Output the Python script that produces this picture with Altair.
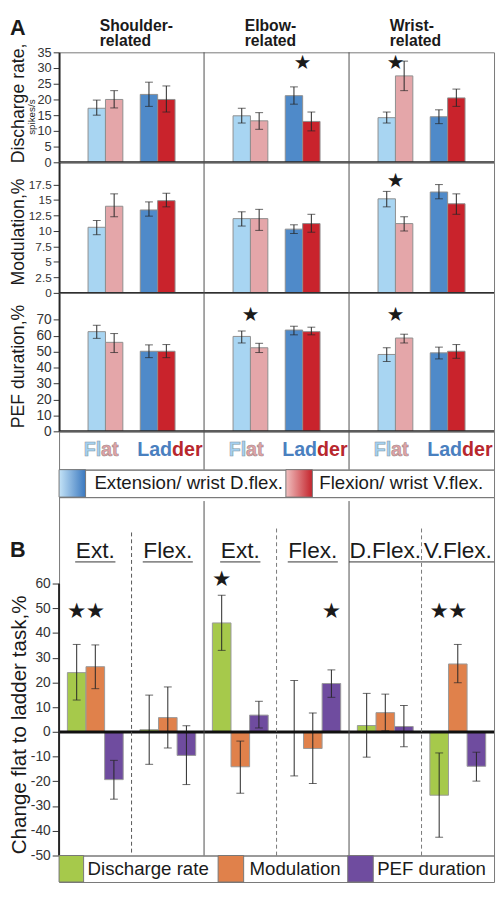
import altair as alt
import pandas as pd

# ---------------- data ----------------
regions = ["Shoulder", "Elbow", "Wrist"]
region_headers = ["Shoulder-\nrelated", "Elbow-\nrelated", "Wrist-\nrelated"]
conditions = ["FE", "FF", "LE", "LF"]  # Flat-Ext, Flat-Flex, Ladder-Ext, Ladder-Flex
slots = ["FE", "FF", "gap", "LE", "LF"]

rate_mean = [17.2, 20.0, 21.6, 20.0, 14.8, 13.2, 21.2, 13.0, 14.2, 27.5, 14.5, 20.5]
rate_lo = [15.0, 17.3, 17.8, 16.0, 12.5, 10.5, 18.5, 10.0, 12.5, 22.8, 12.3, 17.8]
rate_hi = [19.8, 22.8, 25.5, 24.3, 17.2, 15.8, 24.0, 16.0, 16.0, 32.2, 16.7, 23.3]

mod_mean = [10.6, 14.0, 13.4, 14.9, 12.0, 12.0, 10.3, 11.2, 15.2, 11.2, 16.3, 14.4]
mod_lo = [9.4, 12.3, 12.4, 13.9, 10.8, 10.1, 9.6, 9.8, 13.9, 10.0, 15.2, 12.7]
mod_hi = [11.7, 16.0, 14.7, 16.1, 13.1, 13.5, 11.0, 12.7, 16.4, 12.3, 17.5, 16.0]

pef_mean = [62.5, 55.8, 50.2, 50.2, 59.5, 52.4, 63.5, 62.5, 48.2, 58.5, 49.2, 50.2]
pef_lo = [58.3, 49.4, 46.2, 46.2, 55.4, 49.4, 60.5, 60.5, 43.8, 55.4, 45.4, 45.8]
pef_hi = [66.5, 61.3, 54.2, 54.4, 62.9, 55.2, 65.9, 65.3, 52.4, 60.9, 52.8, 54.4]

rate_star_region = ["Elbow", "Wrist"]
rate_star_slot = ["LF", "FF"]
rate_star_y = [31.5, 31.5]
mod_star_region = ["Wrist"]
mod_star_slot = ["FF"]
mod_star_y = [18.1]
pef_star_region = ["Elbow", "Wrist"]
pef_star_slot = ["FF", "FF"]
pef_star_y = [73, 73]

rate_ticks = [0, 5, 10, 15, 20, 25, 30, 35]
mod_ticks = [0, 2.5, 5, 7.5, 10, 12.5, 15, 17.5]
pef_ticks = [0, 10, 20, 30, 40, 50, 60, 70]

b_conditions = ["S-Ext", "S-Flex", "E-Ext", "E-Flex", "W-D", "W-V"]
b_labels = ["Ext.", "Flex.", "Ext.", "Flex.", "D.Flex.", "V.Flex."]
metrics = ["Discharge rate", "Modulation", "PEF duration"]
chg_mean = [24.0, 26.4, -19.3, 0.9, 5.8, -9.5, 44.1, -14.1, 6.8,
            0.0, -6.7, 19.6, 2.6, 7.8, 2.2, -25.6, 27.5, -13.9]
chg_lo = [12.9, 17.5, -27.2, -13.1, -6.5, -21.3, 33.0, -24.8, 1.6,
          -17.8, -20.9, 14.0, -10.2, 0.5, -6.0, -42.6, 19.9, -19.9]
chg_hi = [35.4, 35.2, -11.5, 14.9, 18.2, 2.5, 55.3, -3.7, 12.4,
          20.8, 7.7, 25.1, 15.6, 15.3, 10.7, -8.5, 35.4, -8.2]
b_star_cond = ["S-Ext", "S-Ext", "E-Ext", "E-Flex", "W-V", "W-V"]
b_star_metric = ["Discharge rate", "Modulation", "Discharge rate", "PEF duration",
                 "Discharge rate", "Modulation"]
b_star_y = [48.7, 48.7, 62, 48.7, 48.7, 48.7]
b_ticks = [-50, -40, -30, -20, -10, 0, 10, 20, 30, 40, 50, 60]

# ---------------- style / layout ----------------
FONT = "Liberation Sans"
DARK = "#262626"
LINE = "#4d4d4d"
FRAME = "#777777"
bar_colors = ["#a8d5f2", "#e4a6a9", "#4f8ac9", "#c9232c"]
b_colors = ["#a6c94b", "#e0814b", "#6f4c9f"]

W = 443
TOP = 35
LEFT = 50
H_RATE, H_MOD, H_PEF = 112, 133, 141
H_LBL, H_LEG = 39, 28
H_B, H_BLEG = 365, 27
SLOT = W / 3 * 0.6 / 5

one = pd.DataFrame({"k": [0]})

XA = alt.X("region:N", scale=alt.Scale(domain=regions, paddingInner=0.4, paddingOuter=0.2), axis=None)
XOA = alt.XOffset("cond:N", scale=alt.Scale(domain=slots, paddingInner=0, paddingOuter=0))
XB = alt.X("cond:N", scale=alt.Scale(domain=b_conditions, paddingInner=0.23, paddingOuter=0.115), axis=None)
XOB = alt.XOffset("metric:N", scale=alt.Scale(domain=metrics, paddingInner=0, paddingOuter=0))


def vline(x, h, y0=0, color=LINE, width=1, dash=None):
    kw = dict(color=color, strokeWidth=width)
    if dash:
        kw["strokeDash"] = dash
    return alt.Chart(one).mark_rule(**kw).encode(x=alt.value(x), y=alt.value(y0), y2=alt.value(h))


def label(text, x, y, size, **kw):
    opts = dict(text=text, fontSize=size, color="#1a1a1a", baseline="middle", align="center")
    opts.update(kw)
    return alt.Chart(one).mark_text(**opts).encode(x=alt.value(x), y=alt.value(y))


def y_axis(ticks, size, tick_size=6, domain=True):
    return alt.Axis(values=ticks, title=None, labelExpr="datum.value", labelFontSize=size,
                    labelColor="#333333", labelFont=FONT, labelPadding=2, tickColor="#333333",
                    tickSize=tick_size, domain=domain, domainColor=DARK, domainWidth=2,
                    grid=False, labelOverlap=False, labelBound=False)


def a_row(mean, lo, hi, ymax, ticks, lab_size, title, title_y, s_reg, s_slot, s_y, h, extras=()):
    df = pd.DataFrame({
        "region": [r for r in regions for _ in conditions],
        "cond": conditions * len(regions),
        "mean": mean, "lo": lo, "hi": hi})
    ysc = alt.Scale(domain=[0, ymax], nice=False, zero=True)
    ax = y_axis(ticks, lab_size)
    base = alt.Chart(df)
    bars = base.mark_bar(stroke="#8f8f8f", strokeWidth=1).encode(
        x=XA, xOffset=XOA,
        y=alt.Y("mean:Q", scale=ysc, axis=ax),
        color=alt.Color("cond:N", scale=alt.Scale(domain=conditions, range=bar_colors), legend=None))
    err = base.mark_rule(color=DARK, strokeWidth=1).encode(
        x=XA, xOffset=XOA, y=alt.Y("lo:Q", scale=ysc, axis=ax), y2="hi:Q")
    cap_lo = base.mark_tick(color=DARK, thickness=1, size=8).encode(
        x=XA, xOffset=XOA, y=alt.Y("lo:Q", scale=ysc, axis=ax))
    cap_hi = base.mark_tick(color=DARK, thickness=1, size=8).encode(
        x=XA, xOffset=XOA, y=alt.Y("hi:Q", scale=ysc, axis=ax))
    zero = alt.Chart(one).mark_rule(color=DARK, strokeWidth=2).encode(
        y=alt.Y(datum=0, scale=ysc, axis=ax))
    sdf = pd.DataFrame({"region": s_reg, "cond": s_slot, "y": s_y})
    stars = alt.Chart(sdf).mark_text(text="★", font="DejaVu Sans", fontSize=20, color="#1a1a1a",
                                     dx=-SLOT / 2, baseline="middle").encode(
        x=XA, xOffset=XOA, y=alt.Y("y:Q", scale=ysc, axis=ax))
    ttl = label(title, -LEFT + 9, title_y, 18, angle=270)
    layers = [bars, err, cap_lo, cap_hi, zero, vline(W / 3, h), vline(2 * W / 3, h), stars, ttl]
    layers += list(extras)
    return alt.layer(*layers).properties(width=W, height=h)


# header for first row
hdr = pd.DataFrame({"region": regions, "cond": ["FE"] * 3, "t": region_headers})
header = alt.Chart(hdr).mark_text(fontSize=16, fontWeight="bold", align="left", baseline="top",
                                  lineBreak="\n", lineHeight=16, color="#1a1a1a", dx=3).encode(
    x=XA, xOffset=XOA, y=alt.value(-TOP), text="t:N")
panel_a = label("A", -LEFT, -TOP, 22, fontWeight="bold", align="left", baseline="top")
spikes = label("spikes/s", -28, 66, 10, angle=270)

row_rate = a_row(rate_mean, rate_lo, rate_hi, 35, rate_ticks, 13, "Discharge rate,", 52,
                 rate_star_region, rate_star_slot, rate_star_y, H_RATE, [header, panel_a, spikes])
row_mod = a_row(mod_mean, mod_lo, mod_hi, 21.1, mod_ticks, 12, "Modulation,%", 71,
                mod_star_region, mod_star_slot, mod_star_y, H_MOD)
row_pef = a_row(pef_mean, pef_lo, pef_hi, 86.8, pef_ticks, 14, "PEF duration,%", 75,
                pef_star_region, pef_star_slot, pef_star_y, H_PEF)


# Flat / Ladder label row
def seg(text, slot, align, color, dx, stroke=None):
    d = pd.DataFrame({"region": regions, "cond": [slot] * 3})
    kw = dict(text=text, align=align, baseline="middle", fontSize=20, fontWeight="bold",
              color=color, dx=dx)
    if stroke:
        kw.update(stroke=stroke, strokeWidth=0.6)
    return alt.Chart(d).mark_text(**kw).encode(x=XA, xOffset=XOA, y=alt.value(19))


lbl_row = alt.layer(
    seg("Fl", "FF", "right", "#a3d0f0", -SLOT / 2, "#8a9aa8"),
    seg("at", "FF", "left", "#e3a3a6", -SLOT / 2, "#a08a8a"),
    seg("Lad", "LF", "right", "#4a80bf", -3),
    seg("der", "LF", "left", "#b8272d", -3),
    vline(W / 3, H_LBL), vline(2 * W / 3, H_LBL),
).properties(width=W, height=H_LBL)


# legend for panel A
def grad(c0, c1):
    return alt.LinearGradient(gradient="linear",
                              stops=[alt.GradientStop(color=c0, offset=0),
                                     alt.GradientStop(color=c1, offset=1)],
                              x1=0, x2=1, y1=0, y2=0)


def square(x0, x1, h, color):
    return alt.Chart(one).mark_rect(color=color, stroke=FRAME, strokeWidth=1).encode(
        x=alt.value(x0), x2=alt.value(x1), y=alt.value(0), y2=alt.value(h))


leg_a = alt.layer(
    square(0, 27, H_LEG, grad("#c4e3f7", "#3a78bf")),
    label("Extension/ wrist D.flex.", 36, H_LEG / 2, 19, align="left"),
    square(231, 258, H_LEG, grad("#f0c0c0", "#c4232b")),
    label("Flexion/ wrist V.flex.", 265, H_LEG / 2, 19, align="left"),
).properties(width=W, height=H_LEG)

# panel B
bdf = pd.DataFrame({
    "cond": [c for c in b_conditions for _ in metrics],
    "metric": metrics * len(b_conditions),
    "mean": chg_mean, "lo": chg_lo, "hi": chg_hi})
ysB = alt.Scale(domain=[-50, 95], nice=False, zero=False)
axB = y_axis(b_ticks, 14, tick_size=7, domain=False)
bbase = alt.Chart(bdf)
b_bars = bbase.mark_bar(stroke="#9a9a9a", strokeWidth=1).encode(
    x=XB, xOffset=XOB,
    y=alt.Y("mean:Q", scale=ysB, axis=axB),
    color=alt.Color("metric:N", scale=alt.Scale(domain=metrics, range=b_colors), legend=None))
b_err = bbase.mark_rule(color=DARK, strokeWidth=1).encode(
    x=XB, xOffset=XOB, y=alt.Y("lo:Q", scale=ysB, axis=axB), y2="hi:Q")
b_cap_lo = bbase.mark_tick(color=DARK, thickness=1, size=8).encode(
    x=XB, xOffset=XOB, y=alt.Y("lo:Q", scale=ysB, axis=axB))
b_cap_hi = bbase.mark_tick(color=DARK, thickness=1, size=8).encode(
    x=XB, xOffset=XOB, y=alt.Y("hi:Q", scale=ysB, axis=axB))
b_axis = alt.Chart(one).mark_rule(color=DARK, strokeWidth=2).encode(
    x=alt.value(0), y=alt.Y(datum=-50, scale=ysB, axis=axB), y2=alt.Y2(datum=60))
b_zero = alt.Chart(one).mark_rule(color="#111111", strokeWidth=3).encode(
    y=alt.Y(datum=0, scale=ysB, axis=axB))
b_sdf = pd.DataFrame({"cond": b_star_cond, "metric": b_star_metric, "y": b_star_y})
b_stars = alt.Chart(b_sdf).mark_text(text="★", font="DejaVu Sans", fontSize=22, color="#1a1a1a",
                                     baseline="middle").encode(
    x=XB, xOffset=XOB, y=alt.Y("y:Q", scale=ysB, axis=axB))
b_hdr = alt.Chart(pd.DataFrame({"cond": b_conditions, "lab": b_labels})).mark_text(
    fontSize=23, color="#1a1a1a", baseline="alphabetic").encode(
    x=XB, y=alt.value(62), text="lab:N")

ul_half = {"Ext.": 20.5, "Flex.": 25.5}
underlines = []
for i, lab in enumerate(b_labels[:4]):
    c = W * (i + 0.5) / 6
    underlines.append(alt.Chart(one).mark_rule(color="#333333", strokeWidth=1).encode(
        x=alt.value(c - ul_half[lab]), x2=alt.value(c + ul_half[lab]), y=alt.value(66)))
underlines.append(alt.Chart(one).mark_rule(color="#333333", strokeWidth=1).encode(
    x=alt.value(W * 4 / 6), x2=alt.value(W), y=alt.value(66)))

b_chart = alt.layer(
    b_bars, b_err, b_cap_lo, b_cap_hi, b_zero, b_axis,
    vline(W / 3, H_B, 4), vline(2 * W / 3, H_B, 4),
    vline(W / 6, H_B, 36, "#555555", 1, [4, 3]),
    vline(W / 2, H_B, 32, "#777777", 1, [4, 3]),
    vline(5 * W / 6, H_B, 32, "#777777", 1, [4, 3]),
    b_stars, b_hdr, *underlines,
    label("B", -LEFT, 44, 22, fontWeight="bold", align="left", baseline="top"),
    label("Change flat to ladder task,%", -LEFT + 10, 232, 21, angle=270),
).properties(width=W, height=H_B)

leg_b = alt.layer(
    square(0, 25, H_BLEG, b_colors[0]),
    label("Discharge rate", 29, H_BLEG / 2, 19, align="left"),
    square(162, 188, H_BLEG, b_colors[1]),
    label("Modulation", 194, H_BLEG / 2, 19, align="left"),
    square(294, 320, H_BLEG, b_colors[2]),
    label("PEF duration", 324, H_BLEG / 2, 19, align="left"),
).properties(width=W, height=H_BLEG)

chart = alt.vconcat(
    row_rate, row_mod, row_pef, lbl_row, leg_a, b_chart, leg_b,
    spacing=0, bounds="flush"
).resolve_scale(
    x="independent", xOffset="independent", y="independent", color="independent"
).properties(
    padding={"left": 0, "top": 0, "right": 0, "bottom": 0}
).configure(font=FONT).configure_view(stroke=FRAME, strokeWidth=1)

chart.save("out.html", embed_options={"renderer": "svg", "actions": False})
